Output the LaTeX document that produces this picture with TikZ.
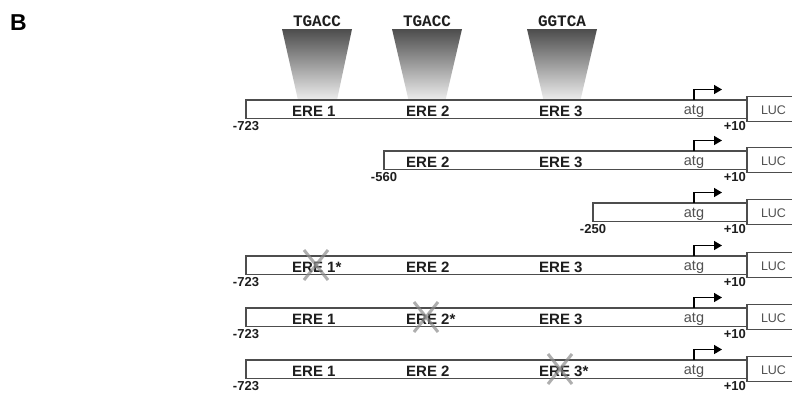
\documentclass[tikz,border=0pt]{standalone}
\usepackage{fontspec}
\setmainfont{Liberation Sans}
\newfontfamily\seqfont{Liberation Mono}
\usetikzlibrary{arrows.meta}
\definecolor{barline}{HTML}{4D4D4D}
\definecolor{inktext}{HTML}{1E1E1E}
\definecolor{softtext}{HTML}{505050}
\definecolor{mutx}{HTML}{8C8C8C}

% one reporter construct: #1 name, #2 top edge, #3 left end, #4 start label
\newcommand{\reporterconstruct}[4]{%
  \node[bar, minimum width={(747-#3)*1pt}] (#1) at (#3,#2) {};
  \node[lucbox] (#1luc) at (747,#2+9) {};
  \node[luclbl] (#1luctext) at (773.5,#2+14) {LUC};
  \node[poslbl, anchor=base] (#1start) at (#3,#2+30.5) {#4};
  \node[poslbl, anchor=base east] (#1end) at (746,#2+30) {+10};
  \node[atglbl] (#1atg) at (694,#2+14.5) {atg};
  \coordinate (#1tss) at (694,#2);
  \coordinate (#1tip) at (722,#2-10.5);
  \draw[tssarrow] (#1tss) |- (#1tip);
}
% element label inside a construct: #1 name, #2 top edge, #3 left x, #4 text
\newcommand{\erelabel}[4]{%
  \node[erelbl] (#1) at (#3,#2+16.5) {#4};
}
% mutated element cross: #1 name, #2 centre
\newcommand{\mutcross}[2]{%
  \coordinate (#1) at #2;
  \draw[mutline] ([shift={(-12,-15)}]#1) -- ([shift={(12,15)}]#1);
  \draw[mutline] ([shift={(12,-15)}]#1) -- ([shift={(-12,15)}]#1);
}

\begin{document}
\begin{tikzpicture}[x=1pt,y=-1pt,
  bar/.style={draw=barline, line width=1.3pt, fill=white, rectangle,
    inner sep=0pt, outer sep=0pt, minimum height=18.5pt, anchor=north west},
  lucbox/.style={draw=barline, line width=1.3pt, fill=white, rectangle,
    inner sep=0pt, outer sep=0pt, minimum height=25pt, minimum width=54pt,
    anchor=west},
  luclbl/.style={inner sep=0pt, anchor=base, text=softtext, font=\fontsize{12.5}{14}\selectfont},
  poslbl/.style={inner sep=0pt, text=inktext, font=\fontsize{13}{15}\selectfont\bfseries},
  atglbl/.style={inner sep=0pt, anchor=base, text=softtext, font=\fontsize{14.5}{16}\selectfont},
  erelbl/.style={inner sep=0pt, anchor=base west, text=inktext, font=\fontsize{15}{17}\selectfont\bfseries},
  seqlbl/.style={inner sep=0pt, anchor=base, text=inktext, font=\fontsize{16}{18}\selectfont\seqfont\bfseries},
  tssarrow/.style={draw=black, line width=1.6pt, -{Triangle[length=8pt,width=9pt]}},
  mutline/.style={draw=mutx, line width=3pt, opacity=0.7},
  site/.style={top color=black!70, bottom color=black!7, draw=none}
]
\path[use as bounding box, clip] (0,0) rectangle (792,394);
\fill[white] (0,0) rectangle (792,394);

% panel letter
\node[inner sep=0pt, anchor=base west, font=\fontsize{23}{25}\selectfont\bfseries] (panel) at (10,30.5) {B};

% half-site sequences and their pointers onto the full-length promoter
\node[seqlbl] (seq1) at (317,26.5) {TGACC};
\node[seqlbl] (seq2) at (427,26.5) {TGACC};
\node[seqlbl] (seq3) at (562,26.5) {GGTCA};
\shade[site] (282,29) -- (352,29) -- (337,100) -- (298,100) -- cycle;
\shade[site] (392,29) -- (462,29) -- (445.5,100) -- (408.5,100) -- cycle;
\shade[site] (527,29) -- (597,29) -- (580.5,100) -- (543.5,100) -- cycle;

% full-length promoter
\reporterconstruct{full}{100}{246}{-723}
\erelabel{fullE1}{100}{292}{ERE 1}
\erelabel{fullE2}{100}{406}{ERE 2}
\erelabel{fullE3}{100}{539}{ERE 3}

% 5' deletion to -560
\reporterconstruct{del560}{151}{384}{-560}
\erelabel{delE2}{151}{406}{ERE 2}
\erelabel{delE3}{151}{539}{ERE 3}

% 5' deletion to -250
\reporterconstruct{del250}{203}{593}{-250}

% ERE 1 mutated
\reporterconstruct{mutA}{256}{246}{-723}
\erelabel{mutAE1}{256}{292}{ERE 1*}
\erelabel{mutAE2}{256}{406}{ERE 2}
\erelabel{mutAE3}{256}{539}{ERE 3}
\mutcross{xA}{(316,265)}

% ERE 2 mutated
\reporterconstruct{mutB}{308}{246}{-723}
\erelabel{mutBE1}{308}{292}{ERE 1}
\erelabel{mutBE2}{308}{406}{ERE 2*}
\erelabel{mutBE3}{308}{539}{ERE 3}
\mutcross{xB}{(426,317)}

% ERE 3 mutated
\reporterconstruct{mutC}{360}{246}{-723}
\erelabel{mutCE1}{360}{292}{ERE 1}
\erelabel{mutCE2}{360}{406}{ERE 2}
\erelabel{mutCE3}{360}{539}{ERE 3*}
\mutcross{xC}{(560,369)}
\end{tikzpicture}
\end{document}
